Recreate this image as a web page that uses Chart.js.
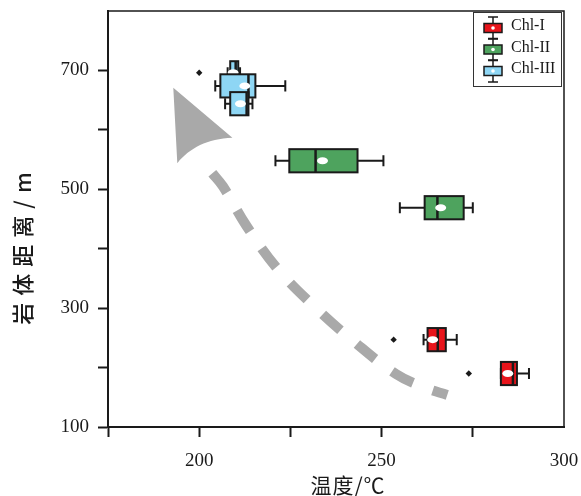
<!DOCTYPE html>
<html><head><meta charset="utf-8">
<script src="https://cdn.jsdelivr.net/npm/chart.js@4.4.0/dist/chart.umd.min.js"></script>
<style>html,body{margin:0;padding:0;background:#fff}#wrap{width:581px;height:496px;position:relative}</style>
</head><body><div id="wrap"><canvas id="c" width="581" height="496"></canvas></div>
<script>
// ---------- DATA ----------
const seriesNames = ['Chl-I', 'Chl-II', 'Chl-III'];
const xTickLabels = [200, 250, 300];
const yTickLabels = [100, 300, 500, 700];
const xTitle = '温度/℃';
const yTitle = '岩体距离/m';

// Chl-I (distance, m ; temperature, °C)
const chl1Distance = [247, 190];
const chl1Min      = [261.5, 282.7];
const chl1Q1       = [262.6, 282.7];
const chl1Median   = [265.4, 286.0];
const chl1Q3       = [267.6, 287.1];
const chl1Max      = [270.6, 290.4];
const chl1Mean     = [264.0, 284.6];
const chl1Outlier  = [253.3, 273.9];

// Chl-II
const chl2Distance = [548, 469];
const chl2Min      = [220.9, 255.0];
const chl2Q1       = [224.7, 261.8];
const chl2Median   = [231.9, 265.3];
const chl2Q3       = [243.4, 272.5];
const chl2Max      = [250.5, 275.0];
const chl2Mean     = [233.8, 266.2];
const chl2Outlier  = [null, null];

// Chl-III
const chl3Distance = [696, 674, 644];
const chl3Min      = [207.8, 204.4, 207.1];
const chl3Q1       = [208.5, 205.8, 208.5];
const chl3Median   = [210.0, 213.5, 213.0];
const chl3Q3       = [210.7, 215.4, 213.5];
const chl3Max      = [211.2, 223.6, 214.6];
const chl3Mean     = [209.3, 212.5, 211.3];
const chl3Outlier  = [200.0, null, null];

// trend arrow (temperature, distance)
const trendX = [203.6, 206.5, 213.0, 221.5, 231.5, 242.0, 254.0, 262.0, 268.0];
const trendY = [527, 505, 438, 366, 303, 246, 189, 166, 154];
const arrowHeadX = [192.9, 194.0, 197.5, 202.2, 209.1];
const arrowHeadY = [671, 544, 569.5, 585, 586.6];

// ---------- STYLE ----------
const colors = ['#e8141b', '#4ea35e', '#8ed6f4'];
const boxHalfHeight = 19.5; // in distance units

const series = [
  {d: chl1Distance, mn: chl1Min, q1: chl1Q1, md: chl1Median, q3: chl1Q3, mx: chl1Max, me: chl1Mean, out: chl1Outlier},
  {d: chl2Distance, mn: chl2Min, q1: chl2Q1, md: chl2Median, q3: chl2Q3, mx: chl2Max, me: chl2Mean, out: chl2Outlier},
  {d: chl3Distance, mn: chl3Min, q1: chl3Q1, md: chl3Median, q3: chl3Q3, mx: chl3Max, me: chl3Mean, out: chl3Outlier}
];

const outlierData = [];
series.forEach(s => s.out.forEach((v, i) => { if (v !== null) outlierData.push({x: v, y: s.d[i]}); }));

function drawBox(ctx, x, y, s, i, color) {
  const yc = y.getPixelForValue(s.d[i]);
  const yt = y.getPixelForValue(s.d[i] + boxHalfHeight);
  const yb = y.getPixelForValue(s.d[i] - boxHalfHeight);
  const cap = (yb - yt) * 0.24;
  const pmn = x.getPixelForValue(s.mn[i]), pq1 = x.getPixelForValue(s.q1[i]);
  const pmd = x.getPixelForValue(s.md[i]), pq3 = x.getPixelForValue(s.q3[i]);
  const pmx = x.getPixelForValue(s.mx[i]), pme = x.getPixelForValue(s.me[i]);
  ctx.strokeStyle = '#1a1a1a';
  ctx.lineWidth = 2;
  ctx.beginPath();
  ctx.moveTo(pmn, yc); ctx.lineTo(pq1, yc);
  ctx.moveTo(pq3, yc); ctx.lineTo(pmx, yc);
  ctx.moveTo(pmn, yc - cap); ctx.lineTo(pmn, yc + cap);
  ctx.moveTo(pmx, yc - cap); ctx.lineTo(pmx, yc + cap);
  ctx.stroke();
  ctx.fillStyle = color;
  ctx.fillRect(pq1, yt, pq3 - pq1, yb - yt);
  ctx.strokeRect(pq1, yt, pq3 - pq1, yb - yt);
  ctx.lineWidth = 2.5;
  ctx.beginPath(); ctx.moveTo(pmd, yt); ctx.lineTo(pmd, yb); ctx.stroke();
  ctx.fillStyle = '#ffffff';
  ctx.beginPath(); ctx.ellipse(pme, yc, 5.5, 3.5, 0, 0, Math.PI * 2); ctx.fill();
}

const boxPlugin = {
  id: 'boxes',
  afterDatasetsDraw(chart) {
    const {ctx, chartArea: a, scales: {x, y}} = chart;
    ctx.save();
    // arrow head
    ctx.fillStyle = '#a9a9a9';
    ctx.beginPath();
    ctx.moveTo(x.getPixelForValue(arrowHeadX[0]), y.getPixelForValue(arrowHeadY[0]));
    ctx.lineTo(x.getPixelForValue(arrowHeadX[1]), y.getPixelForValue(arrowHeadY[1]));
    ctx.bezierCurveTo(
      x.getPixelForValue(arrowHeadX[2]), y.getPixelForValue(arrowHeadY[2]),
      x.getPixelForValue(arrowHeadX[3]), y.getPixelForValue(arrowHeadY[3]),
      x.getPixelForValue(arrowHeadX[4]), y.getPixelForValue(arrowHeadY[4]));
    ctx.closePath();
    ctx.fill();
    series.forEach((s, k) => s.d.forEach((_, i) => drawBox(ctx, x, y, s, i, colors[k])));
    // frame top/right
    ctx.strokeStyle = '#1a1a1a';
    ctx.lineWidth = 1.5;
    ctx.beginPath();
    ctx.moveTo(a.left, a.top); ctx.lineTo(a.right, a.top); ctx.lineTo(a.right, a.bottom);
    ctx.stroke();
    // legend
    ctx.lineWidth = 1;
    ctx.strokeStyle = '#333';
    ctx.strokeRect(473.5, 12.5, 88, 74);
    seriesNames.forEach((name, k) => {
      const cy = 28 + k * 21.5, cx = 493;
      ctx.strokeStyle = '#1a1a1a'; ctx.lineWidth = 1.5;
      ctx.beginPath();
      ctx.moveTo(cx, cy - 11); ctx.lineTo(cx, cy + 11);
      ctx.moveTo(cx - 5, cy - 11); ctx.lineTo(cx + 5, cy - 11);
      ctx.moveTo(cx - 5, cy + 11); ctx.lineTo(cx + 5, cy + 11);
      ctx.stroke();
      ctx.fillStyle = colors[k];
      ctx.fillRect(cx - 9, cy - 4.5, 18, 9);
      ctx.strokeRect(cx - 9, cy - 4.5, 18, 9);
      ctx.fillStyle = '#fff';
      ctx.beginPath(); ctx.arc(cx, cy, 1.8, 0, Math.PI * 2); ctx.fill();
      ctx.fillStyle = '#1a1a1a';
      ctx.font = '16px "Liberation Serif"';
      ctx.textAlign = 'left'; ctx.textBaseline = 'middle';
      ctx.fillText(name, 511, cy - 2);
    });
    // axis titles
    ctx.fillStyle = '#1a1a1a';
    ctx.textAlign = 'center'; ctx.textBaseline = 'middle';
    ctx.font = '21px "Noto Sans CJK SC"';
    ctx.letterSpacing = '1px';
    ctx.fillText(xTitle, 348, 485);
    ctx.font = '500 22px "Noto Sans CJK SC"';
    ctx.letterSpacing = '7px';
    ctx.translate(23, 248);
    ctx.rotate(-Math.PI / 2);
    ctx.fillText(yTitle, 3, 0);
    ctx.restore();
  }
};

const tickColorFn = (hidden) => (c) => (c.tick && c.tick.value === hidden ? 'rgba(0,0,0,0)' : '#1a1a1a');

new Chart(document.getElementById('c'), {
  type: 'scatter',
  data: {
    datasets: [
      {
        label: 'trend',
        data: trendX.map((v, i) => ({x: v, y: trendY[i]})),
        showLine: true,
        borderColor: '#a9a9a9',
        borderWidth: 10,
        borderDash: [24, 21],
        borderCapStyle: 'butt',
        tension: 0.4,
        pointRadius: 0,
        fill: false
      },
      {
        label: 'outliers',
        data: outlierData,
        pointStyle: 'rectRot',
        radius: 3.2,
        backgroundColor: '#1a1a1a',
        borderColor: '#1a1a1a',
        borderWidth: 0
      }
    ]
  },
  options: {
    responsive: false,
    animation: false,
    events: [],
    layout: {padding: {top: 11, right: 17, left: 0, bottom: 0}},
    plugins: {legend: {display: false}, tooltip: {enabled: false}},
    scales: {
      x: {
        type: 'linear', min: 175, max: 300,
        afterFit: (s) => { s.height = 69; s.paddingLeft = 0; s.paddingRight = 0; },
        border: {color: '#1a1a1a', width: 2},
        grid: {drawOnChartArea: false, tickLength: 10, tickWidth: 2, tickColor: tickColorFn(300)},
        ticks: {
          stepSize: 25, padding: 13, color: '#1a1a1a',
          font: {family: '"Liberation Serif"', size: 19},
          callback: (v) => (xTickLabels.includes(v) ? String(v) : '')
        }
      },
      y: {
        type: 'linear', min: 100, max: 800,
        afterFit: (s) => { s.width = 108; s.paddingTop = 0; s.paddingBottom = 0; },
        border: {color: '#1a1a1a', width: 2},
        grid: {drawOnChartArea: false, tickLength: 10, tickWidth: 2, tickColor: tickColorFn(800)},
        ticks: {
          stepSize: 100, padding: 9, color: '#1a1a1a',
          font: {family: '"Liberation Serif"', size: 19},
          callback: (v) => (yTickLabels.includes(v) ? String(v) : '')
        }
      }
    }
  },
  plugins: [boxPlugin]
});
</script>
</body></html>
